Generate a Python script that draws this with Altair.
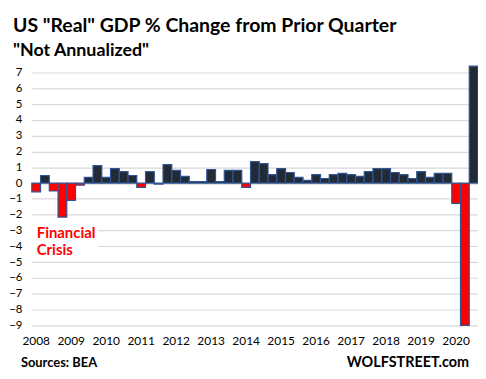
import altair as alt
import pandas as pd

FONT = "Lato"

years = list(range(2008, 2021))
quarters = [f"{y} Q{q}" for y in years for q in range(1, 5)][:51]
gdp_change = [-0.55, 0.48, -0.5, -2.15, -1.09, -0.13, 0.36, 1.11, 0.36, 0.92,
              0.73, 0.48, -0.27, 0.73, -0.06, 1.17, 0.8, 0.42, 0.1, 0.1,
              0.86, 0.1, 0.8, 0.8, -0.27, 1.36, 1.23, 0.54, 0.92, 0.67,
              0.36, 0.17, 0.54, 0.29, 0.54, 0.61, 0.54, 0.42, 0.73, 0.92,
              0.92, 0.67, 0.54, 0.29, 0.73, 0.36, 0.61, 0.61, -1.28, -9.0, 7.4]
y_ticks = list(range(-9, 8))
year_ticks = [q for q in quarters if q.endswith("Q1")]
year_labels = [str(y) for y in years]

df = pd.DataFrame({"quarter": quarters, "change": gdp_change})
df_years = pd.DataFrame({"quarter": year_ticks, "year": year_labels})

xscale = alt.Scale(domain=quarters, paddingInner=0, paddingOuter=0)

bars = alt.Chart(df).mark_bar(stroke="#2F5597", strokeWidth=1.2).encode(
    x=alt.X("quarter:N", sort=quarters, scale=xscale, axis=None),
    y=alt.Y("change:Q", scale=alt.Scale(domain=[-9, 7.5], nice=False, zero=True),
            axis=alt.Axis(values=y_ticks, ticks=False, domain=False,
                          gridColor="#d9d9d9", gridWidth=1.2,
                          labelOverlap=False, labelBound=False, labelFlush=False,
                          labelPadding=10, labelFontSize=11.5, labelFont=FONT,
                          labelColor="black", title=None)),
    color=alt.condition(alt.datum.change < 0, alt.value("#FF0000"), alt.value("#222A35")),
)

year_text = alt.Chart(df_years).mark_text(
    align="center", baseline="middle", fontSize=12, font=FONT, color="black"
).encode(
    x=alt.X("quarter:N", sort=quarters, scale=xscale, axis=None),
    y=alt.value(279),
    text="year:N",
)

one = alt.Data(values=[{}])

def label(text, x, y, size, color="black", align="left"):
    return alt.Chart(one).mark_text(
        text=text, align=align, baseline="alphabetic", fontSize=size,
        fontWeight="bold", font=FONT, color=color
    ).encode(x=alt.value(x), y=alt.value(y))

box = alt.Chart(one).mark_rect(color="white").encode(
    x=alt.value(0), x2=alt.value(67), y=alt.value(160), y2=alt.value(188))

chart = alt.layer(
    bars,
    year_text,
    box,
    label('US "Real" GDP % Change from Prior Quarter', -19, -32.5, 19.6),
    label('"Not Annualized"', -19, -8.5, 18),
    label("Financial", 5, 174.5, 15, color="#FF0000"),
    label("Crisis", 5, 192.5, 15, color="#FF0000"),
    label("Sources: BEA", -11, 305.5, 13),
    label("WOLFSTREET.com", 441, 305.5, 14.5, align="right"),
).properties(
    width=450, height=263,
    autosize=alt.AutoSizeParams(type="none"),
    padding={"left": 24, "top": 55.5, "right": 0, "bottom": 44},
).configure_view(stroke=None)

chart.save("out.html", embed_options={"renderer": "svg", "actions": False})
